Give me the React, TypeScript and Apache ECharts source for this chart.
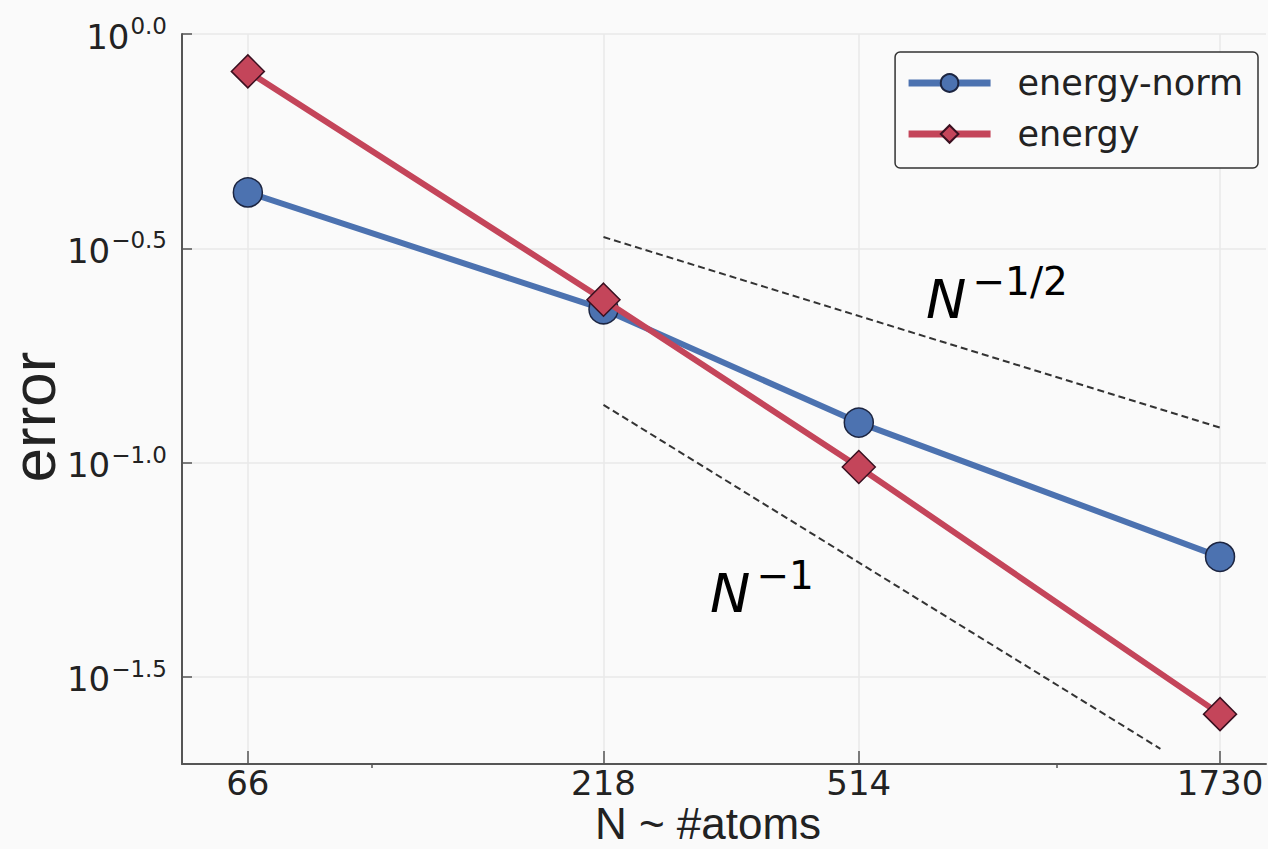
import React, { useEffect, useRef } from "react";
import * as echarts from "echarts";

// ---- data (log-log plot) ----
const atoms = [66, 218, 514, 1730];
const energyNormError = [0.427, 0.228, 0.124, 0.0603];
const energyError = [0.818, 0.24, 0.0977, 0.0259];
// reference slope lines (two end points each)
const refHalfN = [218, 1750];
const refHalfError = [0.336, 0.12];
const refOneN = [218, 1416];
const refOneError = [0.1364, 0.0215];
// axes
const xLimits = [52.9, 2019];
const yLimitExponents = [-1.703, 0];
const yTickExponents = [0, -0.5, -1.0, -1.5];
const xMinorTicks = [100, 1000];

const lg = (v: number) => Math.log10(v);
const toPts = (xs: number[], ys: number[]) => xs.map((x, i) => [lg(x), lg(ys[i])]);

const TICK_FONT = "DejaVu Sans";
const LABEL_FONT = "Liberation Sans";
const BLUE = "#4C72B0";
const RED = "#C4455A";

export default function App() {
  const ref = useRef<HTMLDivElement>(null);
  useEffect(() => {
    if (!ref.current) return;
    const chart = echarts.init(ref.current, undefined, { renderer: "svg" });
    const xMin = lg(xLimits[0]);
    const xMax = lg(xLimits[1]);
    const axisColor = "#555";
    const gridColor = "#e9e9e9";
    const supRich = {
      b: { fontFamily: TICK_FONT, fontSize: 34, color: "#222", verticalAlign: "bottom" },
      s: { fontFamily: TICK_FONT, fontSize: 23, color: "#222", verticalAlign: "top", padding: [0, 0, 16, 1] },
    };
    const annRich = {
      n: { fontFamily: TICK_FONT, fontStyle: "italic", fontSize: 54, lineHeight: 64, color: "#222", verticalAlign: "bottom" },
      s: { fontFamily: TICK_FONT, fontSize: 39, color: "#222", verticalAlign: "top", padding: [0, 0, 0, 6] },
    };
    chart.setOption({
      animation: false,
      backgroundColor: "#fafafa",
      grid: { left: 182, top: 34, right: 2, bottom: 85, containLabel: false, outerBoundsMode: "none" },
      legend: {
        data: ["energy-norm", "energy"],
        orient: "vertical",
        right: 10,
        top: 52,
        itemWidth: 82,
        itemHeight: 22,
        itemGap: 13,
        padding: [12, 15, 15, 10],
        borderColor: "#333",
        borderWidth: 1.5,
        borderRadius: 5,
        backgroundColor: "#fafafa",
        lineStyle: { width: 7 },
        textStyle: { fontFamily: TICK_FONT, fontSize: 35, color: "#222", padding: [0, 0, 0, 22], lineHeight: 38 },
      },
      xAxis: [
        {
          type: "value",
          min: xMin,
          max: xMax,
          name: "N ~ #atoms",
          nameLocation: "middle",
          nameGap: 37,
          nameMoveOverlap: false,
          nameTextStyle: { fontFamily: LABEL_FONT, fontSize: 44, lineHeight: 44, color: "#222", padding: [0, 32, 0, 0] },
          axisLine: { show: true, onZero: false, lineStyle: { color: axisColor, width: 2 } },
          axisTick: { show: true, inside: true, length: 13, customValues: atoms.map(lg), lineStyle: { color: axisColor, width: 1.5 } },
          axisLabel: {
            customValues: atoms.map(lg),
            formatter: (v: number) => String(Math.round(Math.pow(10, v))),
            fontFamily: TICK_FONT,
            fontSize: 34,
            color: "#222",
            margin: 2,
          },
          splitLine: { show: true, lineStyle: { color: gridColor, width: 1.5 } },
        },
        {
          type: "value",
          min: xMin,
          max: xMax,
          position: "top",
          offset: -730,
          axisLine: { show: false },
          axisTick: { show: true, inside: true, length: 4, customValues: xMinorTicks.map(lg), lineStyle: { color: axisColor, width: 1.5 } },
          axisLabel: { show: false },
          splitLine: { show: false },
        },
      ],
      yAxis: {
        type: "value",
        min: yLimitExponents[0],
        max: yLimitExponents[1],
        name: "error",
        nameLocation: "middle",
        nameGap: 118,
        nameMoveOverlap: false,
        nameTextStyle: { fontFamily: LABEL_FONT, fontSize: 62, color: "#222", padding: [0, 36, 0, 0] },
        axisLine: { show: true, onZero: false, lineStyle: { color: axisColor, width: 2 } },
        axisTick: { show: true, inside: true, length: 10, customValues: yTickExponents, lineStyle: { color: axisColor, width: 1.5 } },
        axisLabel: {
          customValues: yTickExponents,
          margin: 15,
          formatter: (v: number) => {
            const e = (Math.abs(v) < 1e-9 ? 0 : v).toFixed(1).replace("-", "\u2212");
            return `{b|10}{s|${e}}`;
          },
          rich: supRich,
        },
        splitLine: { show: true, lineStyle: { color: gridColor, width: 1.5 } },
      },
      series: [
        {
          name: "N^-1/2",
          type: "line",
          data: toPts(refHalfN, refHalfError),
          symbol: "none",
          silent: true,
          lineStyle: { color: "#333", width: 2, type: [7, 4] },
          z: 1,
        },
        {
          name: "N^-1",
          type: "line",
          data: toPts(refOneN, refOneError),
          symbol: "none",
          silent: true,
          lineStyle: { color: "#333", width: 2, type: [7, 4] },
          z: 1,
        },
        {
          name: "energy-norm",
          type: "line",
          data: toPts(atoms, energyNormError),
          symbol: "circle",
          symbolSize: 29,
          lineStyle: { color: BLUE, width: 6 },
          itemStyle: { color: BLUE, borderColor: "#1c2541", borderWidth: 1.5 },
          z: 3,
        },
        {
          name: "energy",
          type: "line",
          data: toPts(atoms, energyError),
          symbol: "diamond",
          symbolSize: 33,
          lineStyle: { color: RED, width: 6 },
          itemStyle: { color: RED, borderColor: "#3a1020", borderWidth: 1.5 },
          z: 4,
        },
      ],
      graphic: [
        {
          type: "text",
          left: 926,
          top: 262,
          style: { text: "{n|N}{s|\u22121/2}", rich: annRich },
        },
        {
          type: "text",
          left: 710,
          top: 556,
          style: { text: "{n|N}{s|\u22121}", rich: annRich },
        },
      ],
    });
    return () => chart.dispose();
  }, []);
  return <div ref={ref} style={{ position: "absolute", left: 0, top: 0, width: 1268, height: 849 }} />;
}
